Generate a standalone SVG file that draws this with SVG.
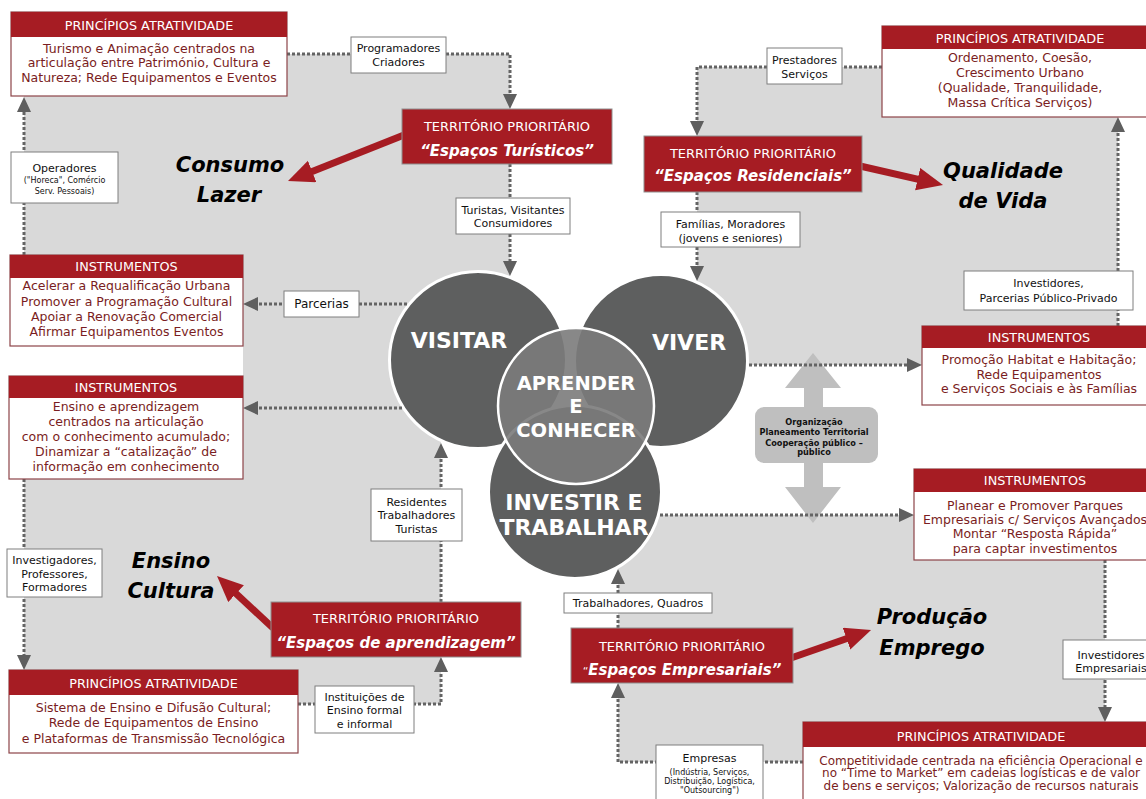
<svg xmlns="http://www.w3.org/2000/svg" width="1146" height="799" viewBox="0 0 1146 799">
<style>
text{font-family:"DejaVu Sans",Verdana,sans-serif;text-anchor:middle}
.bg{fill:#d9d9d9}
.dot{fill:none;stroke:#646464;stroke-width:3;stroke-dasharray:3 2}
.red{fill:none;stroke:#a61c23;stroke-width:7}
.box{fill:#fff;stroke:#8d4448;stroke-width:1.2}
.hdr{fill:#a61c23}
.lbl{fill:#fff;stroke:#7f7f7f;stroke-width:1}
.tp{fill:#a61c23;stroke:#8f8f8f;stroke-width:1}
.ht{fill:#fff;font-size:12.8px}
.bt{fill:#7a1d22;font-size:12.5px}
.bs{fill:#7a1d22;font-size:12px}
.lt{fill:#111;font-size:11px}
.st{fill:#111;font-size:8px}
.big{fill:#000;font-size:21px;font-weight:bold;font-style:italic}
.tpt{fill:#fff;font-size:13px}
.tpe{fill:#fff;font-size:15px;font-weight:bold;font-style:italic}
.cir{fill:#5e5f5f;stroke:#fff;stroke-width:3}
.ct{fill:#fff;font-size:22px;font-weight:bold}
.cc{fill:#fff;font-size:19.5px;font-weight:bold}
.org{fill:#bfbfbf}
.ot{fill:#111;font-size:8.2px;font-weight:bold}
</style>
<defs>
<marker id="ga" markerUnits="userSpaceOnUse" markerWidth="16" markerHeight="14" refX="5" refY="7" orient="auto"><path d="M0,0 L15,7 L0,14 z" fill="#5f5f5f"/></marker>
<marker id="ra" markerUnits="userSpaceOnUse" markerWidth="27" markerHeight="24" refX="2" refY="11.5" orient="auto"><path d="M0,0 L26,11.5 L0,23 z" fill="#a61c23"/></marker>
</defs>
<rect width="1146" height="799" fill="#fff"/>
<g id="backgrounds">
<rect class="bg" x="24" y="54" width="486" height="250"/>
<rect class="bg" x="243" y="304" width="198" height="104"/>
<rect class="bg" x="24" y="408" width="417" height="296"/>
<rect class="bg" x="697" y="67" width="421" height="298"/>
<rect class="bg" x="618" y="515" width="487" height="247"/>
</g>
<g id="circles">
<circle class="cir" cx="478" cy="360" r="88.5"/>
<circle class="cir" cx="661" cy="361" r="86.5"/>
<circle class="cir" cx="575" cy="492" r="86.5"/>
<circle cx="576" cy="406" r="78" fill="#7b7b7b" fill-opacity="0.9" stroke="#fff" stroke-width="2.5"/>
<text class="ct" x="459" y="348">VISITAR</text>
<text class="ct" x="689" y="350">VIVER</text>
<text class="cc" x="576" y="390">APRENDER</text>
<text class="cc" x="576" y="413">E</text>
<text class="cc" x="576" y="437">CONHECER</text>
<text class="ct" x="574" y="510">INVESTIR E</text>
<text class="ct" x="574" y="535">TRABALHAR</text>
</g>
<g id="organizacao">
<polygon class="org" points="813,353 841,388 823,388 823,487 841,487 813,523 785,487 804,487 804,388 785,388"/>
<rect class="org" x="755" y="407" width="123" height="56" rx="9"/>
<text class="ot" x="814" y="425">Organização</text>
<text class="ot" x="814" y="435">Planeamento Territorial</text>
<text class="ot" x="814" y="446">Cooperação público –</text>
<text class="ot" x="814" y="455">público</text>
</g>
<g id="connectors">
<path class="dot" d="M287,54 H351"/>
<path class="dot" d="M24,255 V107" marker-end="url(#ga)"/>
<path class="dot" d="M446,54 H510 V99" marker-end="url(#ga)"/>
<path class="dot" d="M510,164 V266" marker-end="url(#ga)"/>
<path class="dot" d="M407,304 H253" marker-end="url(#ga)"/>
<path class="dot" d="M402,408 H253" marker-end="url(#ga)"/>
<path class="dot" d="M24,479 V660" marker-end="url(#ga)"/>
<path class="dot" d="M298,704 H441 V667" marker-end="url(#ga)"/>
<path class="dot" d="M441,602 V453" marker-end="url(#ga)"/>
<path class="dot" d="M882,67 H697 V126" marker-end="url(#ga)"/>
<path class="dot" d="M697,192 V271" marker-end="url(#ga)"/>
<path class="dot" d="M1118,326 V127" marker-end="url(#ga)"/>
<path class="dot" d="M749,365 H912" marker-end="url(#ga)"/>
<path class="dot" d="M660,515 H904" marker-end="url(#ga)"/>
<path class="dot" d="M1105,560 V712" marker-end="url(#ga)"/>
<path class="dot" d="M803,762 H618 V693" marker-end="url(#ga)"/>
<path class="dot" d="M618,628 V579" marker-end="url(#ga)"/>
<path class="red" d="M404,135 L310.3,172.2" marker-end="url(#ra)"/>
<path class="red" d="M860,166 L919.6,179.6" marker-end="url(#ra)"/>
<path class="red" d="M273,628 L234.6,592.3" marker-end="url(#ra)"/>
<path class="red" d="M791,658 L848.4,638" marker-end="url(#ra)"/>
</g>
<g id="outcomes">
<text class="big" x="230" y="172">Consumo</text>
<text class="big" x="229" y="202">Lazer</text>
<text class="big" x="1003" y="178">Qualidade</text>
<text class="big" x="1003" y="208">de Vida</text>
<text class="big" x="171" y="568">Ensino</text>
<text class="big" x="171" y="598">Cultura</text>
<text class="big" x="932" y="624">Produção</text>
<text class="big" x="932" y="655">Emprego</text>
</g>
<g id="principios-visitar">
<rect class="box" x="11" y="12" width="276" height="84"/>
<rect class="hdr" x="11" y="12" width="276" height="25"/>
<text class="ht" x="149" y="29.6">PRINCÍPIOS ATRATIVIDADE</text>
<text class="bt" x="149" y="52.5">Turismo e Animação centrados na</text>
<text class="bt" x="149" y="66.5">articulação entre Património, Cultura e</text>
<text class="bt" x="149" y="81.5">Natureza; Rede Equipamentos e Eventos</text>
</g>
<g id="operadores">
<rect class="lbl" x="11" y="152" width="107" height="51"/>
<text class="lt" x="64.5" y="172">Operadores</text>
<text class="st" x="64.5" y="183">("Horeca", Comércio</text>
<text class="st" x="64.5" y="194">Serv. Pessoais)</text>
</g>
<g id="instrumentos-visitar">
<rect class="box" x="10" y="255" width="233" height="91"/>
<rect class="hdr" x="10" y="255" width="233" height="23"/>
<text class="ht" x="126.5" y="270.6">INSTRUMENTOS</text>
<text class="bt" x="126.5" y="289.5">Acelerar a Requalificação Urbana</text>
<text class="bt" x="126.5" y="305.5">Promover a Programação Cultural</text>
<text class="bt" x="126.5" y="320.5">Apoiar a Renovação Comercial</text>
<text class="bt" x="126.5" y="335.5">Afirmar Equipamentos Eventos</text>
</g>
<g id="parcerias">
<rect class="lbl" x="284" y="291" width="75" height="26"/>
<text class="lt" x="321.5" y="308.3" style="font-size:12px">Parcerias</text>
</g>
<g id="programadores">
<rect class="lbl" x="351" y="37" width="95" height="36"/>
<text class="lt" x="398.5" y="52">Programadores</text>
<text class="lt" x="398.5" y="66">Criadores</text>
</g>
<g id="territorio-turisticos">
<rect class="tp" x="402" y="109" width="210" height="55"/>
<text class="tpt" x="507" y="130.7">TERRITÓRIO PRIORITÁRIO</text>
<text class="tpe" x="507" y="156.4">“Espaços Turísticos”</text>
</g>
<g id="turistas">
<rect class="lbl" x="456" y="198" width="114" height="36"/>
<text class="lt" x="513" y="214">Turistas, Visitantes</text>
<text class="lt" x="513" y="227">Consumidores</text>
</g>
<g id="instrumentos-aprender">
<rect class="box" x="9" y="376" width="234" height="103"/>
<rect class="hdr" x="9" y="376" width="234" height="22"/>
<text class="ht" x="126" y="391.6">INSTRUMENTOS</text>
<text class="bt" x="126" y="410.5">Ensino e aprendizagem</text>
<text class="bt" x="126" y="425.5">centrados na articulação</text>
<text class="bt" x="126" y="440.5">com o conhecimento acumulado;</text>
<text class="bt" x="126" y="455.5">Dinamizar a “catalização” de</text>
<text class="bt" x="126" y="470.5">informação em conhecimento</text>
</g>
<g id="investigadores">
<rect class="lbl" x="7" y="549" width="95" height="48"/>
<text class="lt" x="54.5" y="564">Investigadores,</text>
<text class="lt" x="54.5" y="578">Professores,</text>
<text class="lt" x="54.5" y="591">Formadores</text>
</g>
<g id="principios-aprender">
<rect class="box" x="9" y="670" width="289" height="83"/>
<rect class="hdr" x="9" y="670" width="289" height="25"/>
<text class="ht" x="153.5" y="687.6">PRINCÍPIOS ATRATIVIDADE</text>
<text class="bt" x="153.5" y="711.5">Sistema de Ensino e Difusão Cultural;</text>
<text class="bt" x="153.5" y="726.5">Rede de Equipamentos de Ensino</text>
<text class="bt" x="153.5" y="742.5">e Plataformas de Transmissão Tecnológica</text>
</g>
<g id="instituicoes">
<rect class="lbl" x="315" y="686" width="99" height="47"/>
<text class="lt" x="364.5" y="701">Instituições de</text>
<text class="lt" x="364.5" y="714">Ensino formal</text>
<text class="lt" x="364.5" y="728">e informal</text>
</g>
<g id="territorio-aprendizagem">
<rect class="tp" x="271" y="602" width="250" height="55"/>
<text class="tpt" x="396" y="622.7">TERRITÓRIO PRIORITÁRIO</text>
<text class="tpe" x="396" y="648.4">“Espaços de aprendizagem”</text>
</g>
<g id="residentes">
<rect class="lbl" x="371" y="489" width="91" height="52"/>
<text class="lt" x="416.5" y="506">Residentes</text>
<text class="lt" x="416.5" y="519">Trabalhadores</text>
<text class="lt" x="416.5" y="533">Turistas</text>
</g>
<g id="prestadores">
<rect class="lbl" x="767" y="48" width="75" height="36"/>
<text class="lt" x="804.5" y="64">Prestadores</text>
<text class="lt" x="804.5" y="78">Serviços</text>
</g>
<g id="principios-viver">
<rect class="box" x="882" y="26" width="276" height="91"/>
<rect class="hdr" x="882" y="26" width="276" height="23"/>
<text class="ht" x="1020" y="43">PRINCÍPIOS ATRATIVIDADE</text>
<text class="bt" x="1020" y="61.5">Ordenamento, Coesão,</text>
<text class="bt" x="1020" y="76.5">Crescimento Urbano</text>
<text class="bt" x="1020" y="91.5">(Qualidade, Tranquilidade,</text>
<text class="bt" x="1020" y="106.5">Massa Crítica Serviços)</text>
</g>
<g id="territorio-residenciais">
<rect class="tp" x="644" y="136" width="218" height="56"/>
<text class="tpt" x="753" y="157.7">TERRITÓRIO PRIORITÁRIO</text>
<text class="tpe" x="753" y="181.4">“Espaços Residenciais”</text>
</g>
<g id="familias">
<rect class="lbl" x="661" y="212" width="139" height="35"/>
<text class="lt" x="730.5" y="228">Famílias, Moradores</text>
<text class="lt" x="730.5" y="242">(jovens e seniores)</text>
</g>
<g id="investidores-ppp">
<rect class="lbl" x="964" y="271" width="169" height="39"/>
<text class="lt" x="1048.5" y="287">Investidores,</text>
<text class="lt" x="1048.5" y="302">Parcerias Público-Privado</text>
</g>
<g id="instrumentos-viver">
<rect class="box" x="922" y="326" width="234" height="79"/>
<rect class="hdr" x="922" y="326" width="234" height="22"/>
<text class="ht" x="1039" y="341.6">INSTRUMENTOS</text>
<text class="bt" x="1039" y="363.5">Promoção Habitat e Habitação;</text>
<text class="bt" x="1039" y="378.5">Rede Equipamentos</text>
<text class="bt" x="1039" y="392.5">e Serviços Sociais e às Famílias</text>
</g>
<g id="instrumentos-investir">
<rect class="box" x="914" y="469" width="242" height="91"/>
<rect class="hdr" x="914" y="469" width="242" height="23"/>
<text class="ht" x="1035" y="484.6">INSTRUMENTOS</text>
<text class="bt" x="1035" y="509.5">Planear e Promover Parques</text>
<text class="bt" x="1035" y="523.5">Empresariais c/ Serviços Avançados</text>
<text class="bt" x="1035" y="537.5">Montar “Resposta Rápida”</text>
<text class="bt" x="1035" y="552.5">para captar investimentos</text>
</g>
<g id="investidores-empresariais">
<rect class="lbl" x="1063" y="640" width="100" height="39"/>
<text class="lt" x="1111" y="659">Investidores</text>
<text class="lt" x="1111" y="672">Empresariais</text>
</g>
<g id="principios-investir">
<rect class="box" x="803" y="722" width="356" height="82"/>
<rect class="hdr" x="803" y="722" width="356" height="25"/>
<text class="ht" x="981" y="740.6">PRINCÍPIOS ATRATIVIDADE</text>
<text class="bs" x="981" y="764.5">Competitividade centrada na eficiência Operacional e</text>
<text class="bs" x="981" y="777.3">no “Time to Market” em cadeias logísticas e de valor</text>
<text class="bs" x="981" y="790">de bens e serviços; Valorização de recursos naturais</text>
</g>
<g id="trabalhadores">
<rect class="lbl" x="564" y="593" width="148" height="20"/>
<text class="lt" x="638" y="607">Trabalhadores, Quadros</text>
</g>
<g id="territorio-empresariais">
<rect class="tp" x="571" y="628" width="222" height="55"/>
<text class="tpt" x="682" y="650.7">TERRITÓRIO PRIORITÁRIO</text>
<text class="tpe" x="682" y="675.4"><tspan style="font-weight:normal;font-style:normal;font-size:11px">“</tspan>Espaços Empresariais”</text>
</g>
<g id="empresas">
<rect class="lbl" x="656" y="745" width="107" height="60"/>
<text class="lt" x="709.5" y="762">Empresas</text>
<text class="st" x="709.5" y="775">(Indústria, Serviços,</text>
<text class="st" x="709.5" y="784">Distribuição, Logística,</text>
<text class="st" x="709.5" y="793">"Outsourcing")</text>
</g>
</svg>
